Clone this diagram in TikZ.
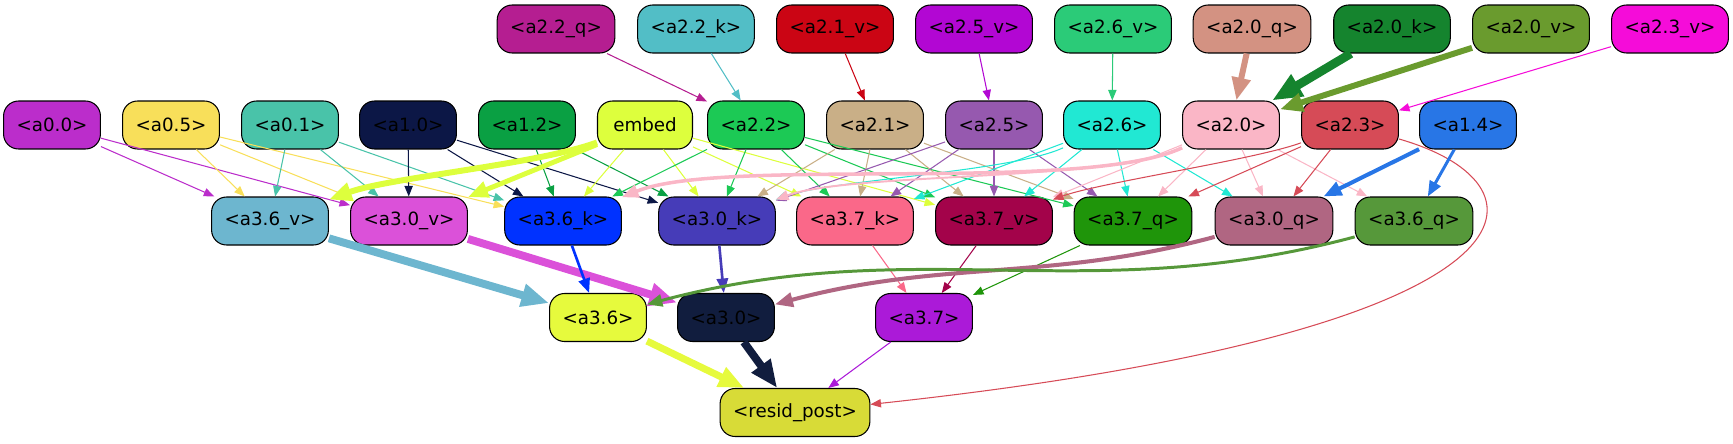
\documentclass[tikz,border=0pt]{standalone}
\usepackage{fontspec}
\setmainfont{DejaVu Sans}
\usepackage{tikz}
\usetikzlibrary{arrows.meta}

\definecolor{ca22q}{HTML}{B51E91}
\definecolor{ca22k}{HTML}{52BEC6}
\definecolor{ca21v}{HTML}{CB0514}
\definecolor{ca25v}{HTML}{B207D3}
\definecolor{ca26v}{HTML}{2BCB78}
\definecolor{ca20q}{HTML}{D39282}
\definecolor{ca20k}{HTML}{15842E}
\definecolor{ca20v}{HTML}{6A9B2E}
\definecolor{ca23v}{HTML}{F50CD9}
\definecolor{ca00}{HTML}{BB2DCB}
\definecolor{ca05}{HTML}{F8DF5A}
\definecolor{ca01}{HTML}{49C3A9}
\definecolor{ca10}{HTML}{0C1746}
\definecolor{ca12}{HTML}{0AA043}
\definecolor{cembed}{HTML}{DDFF3D}
\definecolor{ca22}{HTML}{1CC955}
\definecolor{ca21}{HTML}{C9AF87}
\definecolor{ca25}{HTML}{9659AF}
\definecolor{ca26}{HTML}{21E8D3}
\definecolor{ca20}{HTML}{FAB6C6}
\definecolor{ca23}{HTML}{D64B57}
\definecolor{ca14}{HTML}{2876E6}
\definecolor{ca36v}{HTML}{6DB6CF}
\definecolor{ca30v}{HTML}{DB51D9}
\definecolor{ca36k}{HTML}{0032FF}
\definecolor{ca30k}{HTML}{463CB8}
\definecolor{ca37k}{HTML}{FA6889}
\definecolor{ca37v}{HTML}{A3034A}
\definecolor{ca37q}{HTML}{1F950A}
\definecolor{ca30q}{HTML}{B06682}
\definecolor{ca36q}{HTML}{56983A}
\definecolor{ca36}{HTML}{E6FA3D}
\definecolor{ca30}{HTML}{111D3E}
\definecolor{ca37}{HTML}{AB1AD8}
\definecolor{cresid}{HTML}{D8DB37}

\begin{document}
\begin{tikzpicture}[x=0.02cm,y=-0.02cm,
  box/.style={draw,line width=0.6pt,rounded corners=0.3cm,minimum width=1.9cm,minimum height=0.96cm,inner xsep=0.26cm,font=\fontsize{10.4}{12}\selectfont},
  wire/.style={line width=0.6pt,-{Triangle[length=4.5pt 2.5,width=3.5pt 2]}},
  fat/.style={line width=#1}]
\useasboundingbox (0,0) rectangle (1733,443);

\node[box,fill=ca22q] (a22q) at (556,29) {<a2.2\_q>};
\node[box,fill=ca22k] (a22k) at (696,29) {<a2.2\_k>};
\node[box,fill=ca21v] (a21v) at (835,29) {<a2.1\_v>};
\node[box,fill=ca25v] (a25v) at (974,29) {<a2.5\_v>};
\node[box,fill=ca26v] (a26v) at (1113,29) {<a2.6\_v>};
\node[box,fill=ca20q] (a20q) at (1252,29) {<a2.0\_q>};
\node[box,fill=ca20k] (a20k) at (1392,29) {<a2.0\_k>};
\node[box,fill=ca20v] (a20v) at (1531,29) {<a2.0\_v>};
\node[box,fill=ca23v] (a23v) at (1670,29) {<a2.3\_v>};

\node[box,fill=ca00] (a00) at (52,125) {<a0.0>};
\node[box,fill=ca05] (a05) at (171,125) {<a0.5>};
\node[box,fill=ca01] (a01) at (290,125) {<a0.1>};
\node[box,fill=ca10] (a10) at (408,125) {<a1.0>};
\node[box,fill=ca12] (a12) at (527,125) {<a1.2>};
\node[box,fill=cembed] (embed) at (645,125) {embed};
\node[box,fill=ca22] (a22) at (756,125) {<a2.2>};
\node[box,fill=ca21] (a21) at (875,125) {<a2.1>};
\node[box,fill=ca25] (a25) at (994,125) {<a2.5>};
\node[box,fill=ca26] (a26) at (1112,125) {<a2.6>};
\node[box,fill=ca20] (a20) at (1231,125) {<a2.0>};
\node[box,fill=ca23] (a23) at (1350,125) {<a2.3>};
\node[box,fill=ca14] (a14) at (1468,125) {<a1.4>};

\node[box,fill=ca36v] (a36v) at (270,221) {<a3.6\_v>};
\node[box,fill=ca30v] (a30v) at (409,221) {<a3.0\_v>};
\node[box,fill=ca36k] (a36k) at (563,221) {<a3.6\_k>};
\node[box,fill=ca30k] (a30k) at (717,221) {<a3.0\_k>};
\node[box,fill=ca37k] (a37k) at (855,221) {<a3.7\_k>};
\node[box,fill=ca37v] (a37v) at (994,221) {<a3.7\_v>};
\node[box,fill=ca37q] (a37q) at (1133,221) {<a3.7\_q>};
\node[box,fill=ca30q] (a30q) at (1274,221) {<a3.0\_q>};
\node[box,fill=ca36q] (a36q) at (1414,221) {<a3.6\_q>};

\node[box,fill=ca36] (a36) at (598,317.5) {<a3.6>};
\node[box,fill=ca30] (a30) at (726,317.5) {<a3.0>};
\node[box,fill=ca37] (a37) at (924,317.5) {<a3.7>};

\node[box,fill=cresid] (resid) at (795,412.5) {<resid\_post>};

\draw[wire,ca22q] (a22q) -- (a22);
\draw[wire,ca22k] (a22k) -- (a22);
\draw[wire,ca21v] (a21v) -- (a21);
\draw[wire,ca25v] (a25v) -- (a25);
\draw[wire,ca26v] (a26v) -- (a26);
\draw[wire,fat=3.4pt,ca20q] (a20q) -- (a20);
\draw[wire,fat=5pt,ca20k] (a20k) -- (a20);
\draw[wire,fat=3.4pt,ca20v] (a20v) -- (a20);
\draw[wire,ca23v] (a23v) -- (a23);

\draw[wire,ca00] (a00) -- (a36v);
\draw[wire,ca00] (a00) -- (a30v);
\draw[wire,ca05] (a05) -- (a36v);
\draw[wire,ca05] (a05) -- (a30v);
\draw[wire,ca05] (a05) -- (a36k);
\draw[wire,ca01] (a01) -- (a36v);
\draw[wire,ca01] (a01) -- (a30v);
\draw[wire,ca01] (a01) -- (a36k);
\draw[wire,ca10] (a10) -- (a30v);
\draw[wire,ca10] (a10) -- (a36k);
\draw[wire,ca10] (a10) -- (a30k);
\draw[wire,ca12] (a12) -- (a36k);
\draw[wire,ca12] (a12) -- (a30k);
\draw[wire,fat=3.4pt,cembed] (embed) to[out=200,in=20,looseness=0.6] (a36v);
\draw[wire,fat=2.8pt,cembed] (embed) -- (a30v);
\draw[wire,cembed] (embed) -- (a36k);
\draw[wire,cembed] (embed) -- (a30k);
\draw[wire,cembed] (embed) -- (a37k);
\draw[wire,cembed] (embed) -- (a37v);
\draw[wire,ca22] (a22) -- (a36k);
\draw[wire,ca22] (a22) -- (a30k);
\draw[wire,ca22] (a22) -- (a37k);
\draw[wire,ca22] (a22) -- (a37v);
\draw[wire,ca22] (a22) -- (a37q);
\draw[wire,ca21] (a21) -- (a30k);
\draw[wire,ca21] (a21) -- (a37k);
\draw[wire,ca21] (a21) -- (a37v);
\draw[wire,ca21] (a21) -- (a37q);
\draw[wire,ca25] (a25) -- (a30k);
\draw[wire,ca25] (a25) -- (a37k);
\draw[wire,ca25] (a25) -- (a37v);
\draw[wire,ca25] (a25) -- (a37q);
\draw[wire,ca26] (a26) to[out=205,in=20,looseness=0.5] (a30k);
\draw[wire,ca26] (a26) -- (a37k);
\draw[wire,ca26] (a26) -- (a37v);
\draw[wire,ca26] (a26) -- (a37q);
\draw[wire,ca26] (a26) -- (a30q);
\draw[wire,fat=2pt,ca20] (a20) to[out=205,in=22,looseness=0.5] (a36k);
\draw[wire,fat=1.1pt,ca20] (a20) to[out=205,in=20,looseness=0.5] (a30k);
\draw[wire,ca20] (a20) -- (a37v);
\draw[wire,ca20] (a20) -- (a37q);
\draw[wire,ca20] (a20) -- (a30q);
\draw[wire,ca20] (a20) -- (a36q);
\draw[wire,ca23] (a23) to[out=200,in=20,looseness=0.5] (a37v);
\draw[wire,ca23] (a23) -- (a37q);
\draw[wire,ca23] (a23) -- (a30q);
\draw[wire,ca23] (a23) .. controls (1560,185) and (1560,330) .. (resid);
\draw[wire,fat=2.3pt,ca14] (a14) -- (a30q);
\draw[wire,fat=1.7pt,ca14] (a14) -- (a36q);

\draw[wire,fat=4.5pt,ca36v] (a36v) -- (a36);
\draw[wire,fat=4.5pt,ca30v] (a30v) -- (a30);
\draw[wire,fat=1.5pt,ca36k] (a36k) -- (a36);
\draw[wire,fat=1.5pt,ca30k] (a30k) -- (a30);
\draw[wire,ca37k] (a37k) -- (a37);
\draw[wire,ca37v] (a37v) -- (a37);
\draw[wire,ca37q] (a37q) -- (a37);
\draw[wire,fat=2.3pt,ca30q] (a30q) to[out=195,in=15] (a30);
\draw[wire,fat=1.7pt,ca36q] (a36q) to[out=195,in=15] (a36);

\draw[wire,fat=4pt,ca36] (a36) -- (resid);
\draw[wire,fat=4.5pt,ca30] (a30) -- (resid);
\draw[wire,ca37] (a37) -- (resid);
\end{tikzpicture}
\end{document}
